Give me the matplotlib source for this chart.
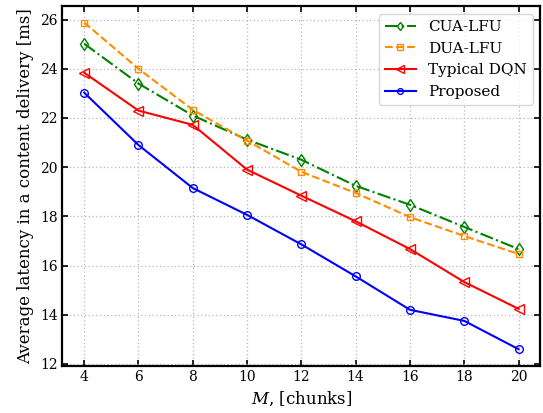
import numpy as np
import matplotlib.pyplot as plt

plt.rcParams["font.family"] = "DejaVu Serif"
plt.rcParams["mathtext.fontset"] = "dejavuserif"

M = [4, 6, 8, 10, 12, 14, 16, 18, 20]
cua_lfu = [25.02, 23.40, 22.10, 21.12, 20.30, 19.24, 18.47, 17.57, 16.67]
dua_lfu = [25.88, 24.00, 22.33, 21.08, 19.81, 18.95, 17.97, 17.20, 16.47]
typical_dqn = [23.84, 22.30, 21.72, 19.90, 18.84, 17.80, 16.67, 15.33, 14.24]
proposed = [23.03, 20.90, 19.15, 18.06, 16.86, 15.56, 14.20, 13.75, 12.60]

fig, ax = plt.subplots(figsize=(5.43, 4.13), dpi=100)
ax.plot(M, cua_lfu, "-.", color="green", marker="d", mfc="none", ms=6, lw=1.5, label="CUA-LFU")
ax.plot(M, dua_lfu, "--", color="darkorange", marker="s", mfc="none", ms=5, lw=1.5, label="DUA-LFU")
ax.plot(M, typical_dqn, "-", color="red", marker="<", mfc="none", ms=7, lw=1.5, label="Typical DQN")
ax.plot(M, proposed, "-", color="blue", marker="o", mfc="none", ms=5.5, lw=1.5, label="Proposed")

ax.set_xticks(M)
ax.set_yticks([12, 14, 16, 18, 20, 22, 24, 26])
ax.grid(True, linestyle=(0, (1, 2)), color="#b8b8b8", lw=0.9)
ax.tick_params(direction="in", top=True, right=True, width=1.2, length=4, labelsize=10)
for s in ax.spines.values():
    s.set_linewidth(1.6)
ax.set_xlabel(r"$M$, [chunks]", fontsize=12)
ax.set_ylabel("Average latency in a content delivery [ms]", fontsize=12)
ax.legend(loc="upper right", fontsize=11, handlelength=2.0, markerscale=0.75)

fig.subplots_adjust(left=0.115, right=0.995, top=0.985, bottom=0.115)
fig.savefig("out.png", dpi=100)
